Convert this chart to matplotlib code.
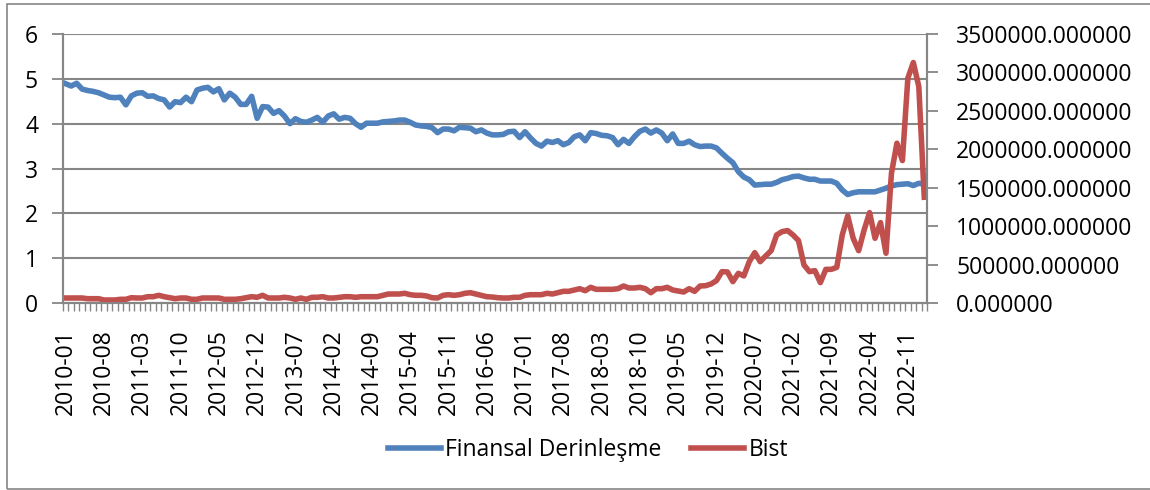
import numpy as np
import pandas as pd
import matplotlib
matplotlib.use("Agg")
import matplotlib.pyplot as plt
from matplotlib.patches import Rectangle
from matplotlib.ticker import FormatStrFormatter

plt.rcParams['font.family'] = ['Open Sans', 'DejaVu Sans']

# monthly categories 2010-01 .. 2023-02
months = pd.date_range("2010-01-01", periods=158, freq="MS").strftime("%Y-%m").tolist()

# Finansal Derinleşme (left axis)
finansal = [
    4.89, 4.84, 4.90, 4.77, 4.74, 4.72, 4.69, 4.64, 4.59, 4.58,
    4.59, 4.42, 4.62, 4.68, 4.69, 4.61, 4.62, 4.56, 4.53, 4.37,
    4.49, 4.47, 4.59, 4.49, 4.75, 4.79, 4.81, 4.71, 4.78, 4.53,
    4.68, 4.59, 4.43, 4.43, 4.61, 4.12, 4.38, 4.37, 4.23, 4.29,
    4.17, 4.00, 4.11, 4.05, 4.03, 4.08, 4.14, 4.03, 4.17, 4.22,
    4.10, 4.14, 4.12, 4.00, 3.92, 4.01, 4.01, 4.01, 4.04, 4.05,
    4.06, 4.08, 4.08, 4.03, 3.97, 3.95, 3.94, 3.91, 3.80, 3.88,
    3.88, 3.84, 3.92, 3.91, 3.90, 3.82, 3.86, 3.79, 3.75, 3.75,
    3.76, 3.82, 3.83, 3.69, 3.82, 3.68, 3.56, 3.50, 3.61, 3.58,
    3.62, 3.53, 3.58, 3.71, 3.75, 3.62, 3.80, 3.78, 3.74, 3.73,
    3.69, 3.53, 3.65, 3.56, 3.71, 3.83, 3.88, 3.79, 3.86, 3.79,
    3.62, 3.77, 3.56, 3.56, 3.61, 3.53, 3.49, 3.50, 3.50, 3.46,
    3.34, 3.23, 3.13, 2.93, 2.81, 2.75, 2.63, 2.64, 2.65, 2.65,
    2.69, 2.75, 2.78, 2.82, 2.83, 2.79, 2.76, 2.76, 2.72, 2.72,
    2.72, 2.67, 2.52, 2.42, 2.46, 2.48, 2.48, 2.48, 2.48, 2.52,
    2.56, 2.61, 2.64, 2.65, 2.66, 2.62, 2.67, 2.65,
]

# Bist (right axis), in thousands
bist_k = [
    65, 65, 65, 65, 56, 56, 56, 39, 39, 39,
    48, 48, 69, 65, 65, 82, 82, 100, 82, 69,
    56, 65, 65, 48, 48, 65, 65, 65, 65, 48,
    48, 48, 56, 69, 82, 74, 100, 65, 65, 65,
    74, 65, 48, 65, 48, 74, 74, 82, 65, 65,
    74, 82, 82, 74, 82, 82, 82, 82, 100, 117,
    117, 117, 126, 108, 100, 100, 91, 69, 65, 100,
    108, 100, 108, 126, 134, 117, 100, 82, 78, 69,
    65, 65, 74, 74, 100, 108, 108, 108, 126, 117,
    134, 152, 152, 169, 186, 160, 204, 178, 178, 178,
    178, 186, 221, 195, 195, 204, 186, 134, 186, 186,
    204, 169, 156, 143, 186, 152, 221, 225, 247, 291,
    408, 404, 278, 386, 352, 538, 655, 538, 612, 681,
    885, 929, 942, 885, 812, 495, 408, 421, 265, 438,
    438, 464, 885, 1133, 842, 681, 950, 1176, 842, 1046,
    647, 1689, 2079, 1853, 2926, 3129, 2817, 1376,
]
bist = np.array(bist_k) * 1000.0

blue = '#4F81BD'
red = '#C0504D'
grey = '#868686'
fs = 16.5

fig = plt.figure(figsize=(11.5, 4.9), dpi=100)
ax = fig.add_axes([63/1150, 1 - 303/490, (927-63)/1150, (303-34)/490])
ax2 = ax.twinx()

x = np.arange(len(months))
l1, = ax.plot(x, finansal, color=blue, lw=4, solid_joinstyle='round', label='Finansal Derinleşme')
l2, = ax2.plot(x, bist, color=red, lw=4, solid_joinstyle='round', label='Bist')

ax.set_xlim(-0.5, len(months) - 0.5)
ax.set_ylim(0, 6)
ax.set_yticks(range(7))
ax2.set_ylim(0, 3500000)
ax2.set_yticks(np.arange(0, 3500001, 500000))
ax2.yaxis.set_major_formatter(FormatStrFormatter('%.6f'))

ax.set_xticks(x[::7])
ax.set_xticklabels(months[::7], rotation=90)
ax.set_xticks(np.arange(-0.5, len(months), 1), minor=True)
ax.tick_params(axis='x', which='major', length=0, pad=19, labelsize=fs)
ax.tick_params(axis='x', which='minor', length=6, width=1, color=grey)
ax.tick_params(axis='y', length=8, width=1.3, color=grey, pad=10, labelsize=fs)
ax2.tick_params(axis='y', length=8, width=1.3, color=grey, pad=13, labelsize=fs)

ax.yaxis.grid(True, color=grey, lw=1.5)
ax.set_axisbelow(True)
for a in (ax, ax2):
    a.spines['top'].set_visible(False)
    for s in ('left', 'right', 'bottom'):
        a.spines[s].set_color(grey)
        a.spines[s].set_linewidth(1.5)

fig.legend(handles=[l1, l2], loc='center', bbox_to_anchor=(588/1150, 1 - 450/490),
           ncol=2, frameon=False, fontsize=fs, handlelength=2.3,
           handletextpad=0.2, columnspacing=1.3)

fig.add_artist(Rectangle((7/1150, 1/490), 1.2, 485/490, transform=fig.transFigure,
                         fill=False, edgecolor=grey, lw=1.2))

fig.savefig('out.png', dpi=100)
